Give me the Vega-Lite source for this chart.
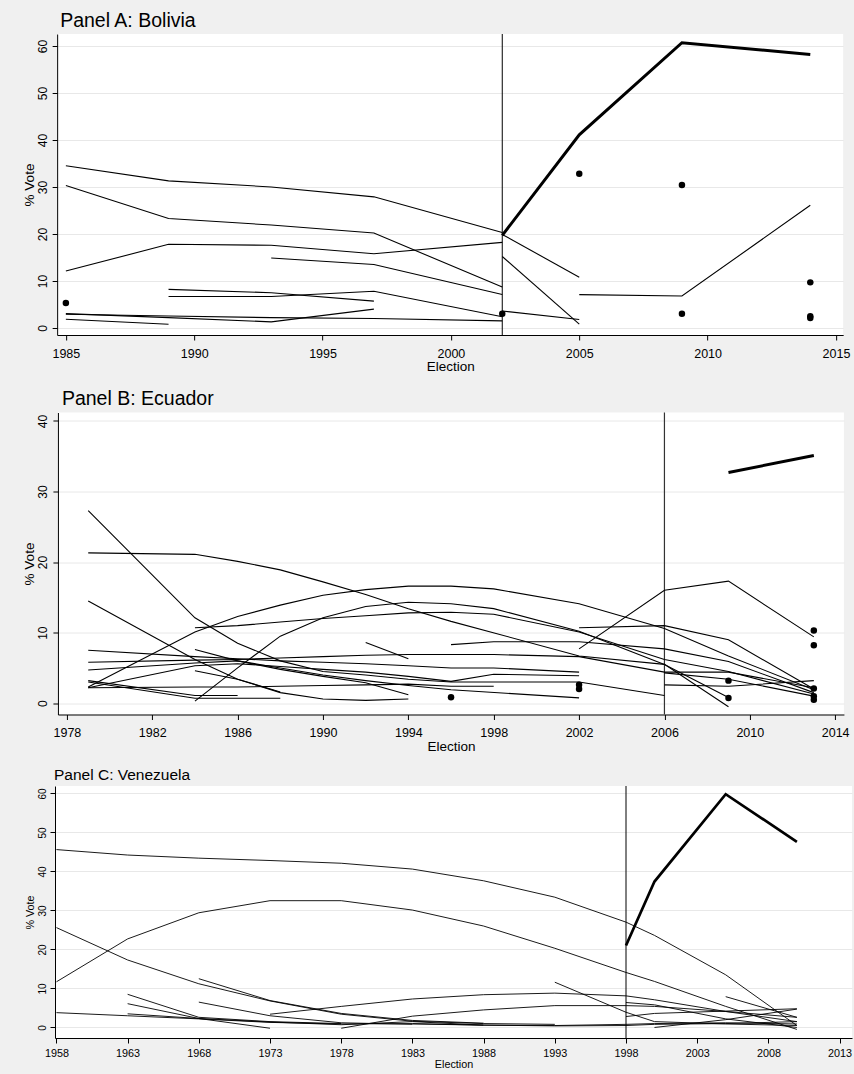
{
  "$schema": "https://vega.github.io/schema/vega-lite/v6.json",
  "background": "#f0f0f0",
  "padding": {"left": 22, "top": 11, "right": 2, "bottom": 8},
  "spacing": 15.5,
  "align": "each",
  "center": true,
  "bounds": "full",
  "datasets": {
    "bolivia": [
      {"party": "b1", "year": 1985, "vote": 34.5, "kind": "line"},
      {"party": "b1", "year": 1989, "vote": 31.3, "kind": "line"},
      {"party": "b1", "year": 1993, "vote": 30.0, "kind": "line"},
      {"party": "b1", "year": 1997, "vote": 27.9, "kind": "line"},
      {"party": "b1", "year": 2002, "vote": 20.3, "kind": "line"},
      {"party": "b1b", "year": 2002, "vote": 19.9, "kind": "line"},
      {"party": "b1b", "year": 2005, "vote": 10.8, "kind": "line"},
      {"party": "b2", "year": 1985, "vote": 30.3, "kind": "line"},
      {"party": "b2", "year": 1989, "vote": 23.3, "kind": "line"},
      {"party": "b2", "year": 1993, "vote": 21.9, "kind": "line"},
      {"party": "b2", "year": 1997, "vote": 20.2, "kind": "line"},
      {"party": "b2", "year": 2002, "vote": 8.7, "kind": "line"},
      {"party": "b3", "year": 1985, "vote": 12.1, "kind": "line"},
      {"party": "b3", "year": 1989, "vote": 17.8, "kind": "line"},
      {"party": "b3", "year": 1993, "vote": 17.6, "kind": "line"},
      {"party": "b3", "year": 1997, "vote": 15.8, "kind": "line"},
      {"party": "b3", "year": 2002, "vote": 18.2, "kind": "line"},
      {"party": "b4", "year": 1993, "vote": 14.9, "kind": "line"},
      {"party": "b4", "year": 1997, "vote": 13.5, "kind": "line"},
      {"party": "b4", "year": 2002, "vote": 7.1, "kind": "line"},
      {"party": "b5", "year": 1989, "vote": 8.2, "kind": "line"},
      {"party": "b5", "year": 1993, "vote": 7.5, "kind": "line"},
      {"party": "b5", "year": 1997, "vote": 5.7, "kind": "line"},
      {"party": "b6", "year": 1989, "vote": 6.7, "kind": "line"},
      {"party": "b6", "year": 1993, "vote": 6.7, "kind": "line"},
      {"party": "b6", "year": 1997, "vote": 7.8, "kind": "line"},
      {"party": "b6", "year": 2002, "vote": 2.4, "kind": "line"},
      {"party": "b7", "year": 1985, "vote": 2.9, "kind": "line"},
      {"party": "b7", "year": 1989, "vote": 2.55, "kind": "line"},
      {"party": "b7", "year": 1993, "vote": 2.2, "kind": "line"},
      {"party": "b7", "year": 1997, "vote": 2.0, "kind": "line"},
      {"party": "b7", "year": 2002, "vote": 1.5, "kind": "line"},
      {"party": "b8", "year": 1985, "vote": 3.05, "kind": "line"},
      {"party": "b8", "year": 1989, "vote": 2.2, "kind": "line"},
      {"party": "b8", "year": 1993, "vote": 1.3, "kind": "line"},
      {"party": "b8", "year": 1997, "vote": 4.0, "kind": "line"},
      {"party": "b9", "year": 1985, "vote": 1.85, "kind": "line"},
      {"party": "b9", "year": 1989, "vote": 0.8, "kind": "line"},
      {"party": "b10", "year": 2002, "vote": 15.2, "kind": "line"},
      {"party": "b10", "year": 2005, "vote": 0.8, "kind": "line"},
      {"party": "b11", "year": 2002, "vote": 3.6, "kind": "line"},
      {"party": "b11", "year": 2005, "vote": 1.8, "kind": "line"},
      {"party": "b12", "year": 2005, "vote": 7.1, "kind": "line"},
      {"party": "b12", "year": 2009, "vote": 6.8, "kind": "line"},
      {"party": "b12", "year": 2014, "vote": 26.1, "kind": "line"},
      {"party": "MAS", "year": 2002, "vote": 19.7, "kind": "thick"},
      {"party": "MAS", "year": 2005, "vote": 41.1, "kind": "thick"},
      {"party": "MAS", "year": 2009, "vote": 60.7, "kind": "thick"},
      {"party": "MAS", "year": 2014, "vote": 58.2, "kind": "thick"},
      {"party": "p1", "year": 1985, "vote": 5.3, "kind": "point"},
      {"party": "p2", "year": 2002, "vote": 3.0, "kind": "point"},
      {"party": "p3", "year": 2005, "vote": 32.8, "kind": "point"},
      {"party": "p4", "year": 2009, "vote": 30.4, "kind": "point"},
      {"party": "p5", "year": 2009, "vote": 3.0, "kind": "point"},
      {"party": "p6", "year": 2014, "vote": 9.7, "kind": "point"},
      {"party": "p7", "year": 2014, "vote": 2.5, "kind": "point"},
      {"party": "p8", "year": 2014, "vote": 2.1, "kind": "point"}
    ],
    "ecuador": [
      {"party": "e1", "year": 1979, "vote": 27.3, "kind": "line"},
      {"party": "e1", "year": 1984, "vote": 12.1, "kind": "line"},
      {"party": "e1", "year": 1986, "vote": 8.5, "kind": "line"},
      {"party": "e1", "year": 1988, "vote": 6.0, "kind": "line"},
      {"party": "e1", "year": 1990, "vote": 4.5, "kind": "line"},
      {"party": "e1", "year": 1992, "vote": 4.0, "kind": "line"},
      {"party": "e1", "year": 1994, "vote": 3.4, "kind": "line"},
      {"party": "e1", "year": 1996, "vote": 3.0, "kind": "line"},
      {"party": "e1", "year": 1998, "vote": 3.0, "kind": "line"},
      {"party": "e1", "year": 2002, "vote": 3.0, "kind": "line"},
      {"party": "e1", "year": 2006, "vote": 1.1, "kind": "line"},
      {"party": "e2", "year": 1979, "vote": 21.3, "kind": "line"},
      {"party": "e2", "year": 1984, "vote": 21.1, "kind": "line"},
      {"party": "e2", "year": 1986, "vote": 20.1, "kind": "line"},
      {"party": "e2", "year": 1988, "vote": 18.9, "kind": "line"},
      {"party": "e2", "year": 1990, "vote": 17.2, "kind": "line"},
      {"party": "e2", "year": 1992, "vote": 15.4, "kind": "line"},
      {"party": "e2", "year": 1994, "vote": 13.4, "kind": "line"},
      {"party": "e2", "year": 1996, "vote": 11.6, "kind": "line"},
      {"party": "e2", "year": 2002, "vote": 6.7, "kind": "line"},
      {"party": "e2", "year": 2006, "vote": 5.5, "kind": "line"},
      {"party": "e2", "year": 2009, "vote": -0.5, "kind": "line"},
      {"party": "e3", "year": 1979, "vote": 2.3, "kind": "line"},
      {"party": "e3", "year": 1984, "vote": 10.1, "kind": "line"},
      {"party": "e3", "year": 1986, "vote": 12.3, "kind": "line"},
      {"party": "e3", "year": 1988, "vote": 13.9, "kind": "line"},
      {"party": "e3", "year": 1990, "vote": 15.3, "kind": "line"},
      {"party": "e3", "year": 1992, "vote": 16.1, "kind": "line"},
      {"party": "e3", "year": 1994, "vote": 16.6, "kind": "line"},
      {"party": "e3", "year": 1996, "vote": 16.6, "kind": "line"},
      {"party": "e3", "year": 1998, "vote": 16.2, "kind": "line"},
      {"party": "e3", "year": 2002, "vote": 14.1, "kind": "line"},
      {"party": "e3", "year": 2006, "vote": 10.6, "kind": "line"},
      {"party": "e3", "year": 2009, "vote": 6.7, "kind": "line"},
      {"party": "e3", "year": 2013, "vote": 1.9, "kind": "line"},
      {"party": "e4", "year": 1984, "vote": 0.3, "kind": "line"},
      {"party": "e4", "year": 1986, "vote": 5.0, "kind": "line"},
      {"party": "e4", "year": 1988, "vote": 9.5, "kind": "line"},
      {"party": "e4", "year": 1990, "vote": 12.1, "kind": "line"},
      {"party": "e4", "year": 1992, "vote": 13.7, "kind": "line"},
      {"party": "e4", "year": 1994, "vote": 14.3, "kind": "line"},
      {"party": "e4", "year": 1996, "vote": 14.1, "kind": "line"},
      {"party": "e4", "year": 1998, "vote": 13.4, "kind": "line"},
      {"party": "e4", "year": 2002, "vote": 10.2, "kind": "line"},
      {"party": "e4", "year": 2006, "vote": 5.5, "kind": "line"},
      {"party": "e4", "year": 2009, "vote": 0.8, "kind": "line"},
      {"party": "e5", "year": 1984, "vote": 10.7, "kind": "line"},
      {"party": "e5", "year": 1986, "vote": 11.0, "kind": "line"},
      {"party": "e5", "year": 1988, "vote": 11.5, "kind": "line"},
      {"party": "e5", "year": 1990, "vote": 12.0, "kind": "line"},
      {"party": "e5", "year": 1992, "vote": 12.4, "kind": "line"},
      {"party": "e5", "year": 1994, "vote": 12.8, "kind": "line"},
      {"party": "e5", "year": 1996, "vote": 12.9, "kind": "line"},
      {"party": "e5", "year": 1998, "vote": 12.6, "kind": "line"},
      {"party": "e5", "year": 2002, "vote": 10.1, "kind": "line"},
      {"party": "e5", "year": 2006, "vote": 6.2, "kind": "line"},
      {"party": "e5", "year": 2009, "vote": 4.5, "kind": "line"},
      {"party": "e5", "year": 2013, "vote": 1.3, "kind": "line"},
      {"party": "e6", "year": 1992, "vote": 8.6, "kind": "line"},
      {"party": "e6", "year": 1994, "vote": 6.3, "kind": "line"},
      {"party": "e7", "year": 1996, "vote": 8.3, "kind": "line"},
      {"party": "e7", "year": 1998, "vote": 8.7, "kind": "line"},
      {"party": "e7", "year": 2002, "vote": 8.7, "kind": "line"},
      {"party": "e7", "year": 2006, "vote": 7.7, "kind": "line"},
      {"party": "e7", "year": 2009, "vote": 5.9, "kind": "line"},
      {"party": "e7", "year": 2013, "vote": 1.5, "kind": "line"},
      {"party": "e8", "year": 2002, "vote": 10.7, "kind": "line"},
      {"party": "e8", "year": 2006, "vote": 11.0, "kind": "line"},
      {"party": "e8", "year": 2009, "vote": 9.0, "kind": "line"},
      {"party": "e8", "year": 2013, "vote": 2.0, "kind": "line"},
      {"party": "e9", "year": 2002, "vote": 7.7, "kind": "line"},
      {"party": "e9", "year": 2006, "vote": 16.0, "kind": "line"},
      {"party": "e9", "year": 2009, "vote": 17.3, "kind": "line"},
      {"party": "e9", "year": 2013, "vote": 9.4, "kind": "line"},
      {"party": "e10", "year": 1979, "vote": 7.5, "kind": "line"},
      {"party": "e10", "year": 1984, "vote": 6.6, "kind": "line"},
      {"party": "e10", "year": 1986, "vote": 6.3, "kind": "line"},
      {"party": "e10", "year": 1988, "vote": 6.0, "kind": "line"},
      {"party": "e10", "year": 1990, "vote": 5.8, "kind": "line"},
      {"party": "e10", "year": 1992, "vote": 5.6, "kind": "line"},
      {"party": "e10", "year": 1994, "vote": 5.3, "kind": "line"},
      {"party": "e10", "year": 1996, "vote": 5.0, "kind": "line"},
      {"party": "e10", "year": 1998, "vote": 5.0, "kind": "line"},
      {"party": "e10", "year": 2002, "vote": 4.4, "kind": "line"},
      {"party": "e11", "year": 1979, "vote": 5.8, "kind": "line"},
      {"party": "e11", "year": 1984, "vote": 6.1, "kind": "line"},
      {"party": "e11", "year": 1986, "vote": 6.2, "kind": "line"},
      {"party": "e11", "year": 1988, "vote": 6.4, "kind": "line"},
      {"party": "e11", "year": 1990, "vote": 6.6, "kind": "line"},
      {"party": "e11", "year": 1992, "vote": 6.8, "kind": "line"},
      {"party": "e11", "year": 1994, "vote": 6.9, "kind": "line"},
      {"party": "e11", "year": 1996, "vote": 6.9, "kind": "line"},
      {"party": "e11", "year": 1998, "vote": 6.9, "kind": "line"},
      {"party": "e11", "year": 2002, "vote": 6.6, "kind": "line"},
      {"party": "e11", "year": 2006, "vote": 4.4, "kind": "line"},
      {"party": "e11", "year": 2009, "vote": 4.4, "kind": "line"},
      {"party": "e11", "year": 2013, "vote": 2.2, "kind": "line"},
      {"party": "e12", "year": 1979, "vote": 4.7, "kind": "line"},
      {"party": "e12", "year": 1984, "vote": 5.7, "kind": "line"},
      {"party": "e12", "year": 1986, "vote": 6.0, "kind": "line"},
      {"party": "e12", "year": 1988, "vote": 5.0, "kind": "line"},
      {"party": "e12", "year": 1990, "vote": 4.0, "kind": "line"},
      {"party": "e12", "year": 1992, "vote": 3.2, "kind": "line"},
      {"party": "e12", "year": 1994, "vote": 2.5, "kind": "line"},
      {"party": "e12", "year": 1996, "vote": 1.9, "kind": "line"},
      {"party": "e12", "year": 2002, "vote": 0.75, "kind": "line"},
      {"party": "e13", "year": 1979, "vote": 2.2, "kind": "line"},
      {"party": "e13", "year": 1984, "vote": 5.3, "kind": "line"},
      {"party": "e13", "year": 1986, "vote": 5.6, "kind": "line"},
      {"party": "e13", "year": 1988, "vote": 5.2, "kind": "line"},
      {"party": "e13", "year": 1990, "vote": 4.8, "kind": "line"},
      {"party": "e13", "year": 1992, "vote": 4.4, "kind": "line"},
      {"party": "e13", "year": 1994, "vote": 3.8, "kind": "line"},
      {"party": "e13", "year": 1996, "vote": 3.1, "kind": "line"},
      {"party": "e13", "year": 1998, "vote": 4.1, "kind": "line"},
      {"party": "e13", "year": 2002, "vote": 3.9, "kind": "line"},
      {"party": "e14", "year": 1979, "vote": 2.2, "kind": "line"},
      {"party": "e14", "year": 1984, "vote": 2.3, "kind": "line"},
      {"party": "e14", "year": 1986, "vote": 2.3, "kind": "line"},
      {"party": "e14", "year": 1988, "vote": 2.4, "kind": "line"},
      {"party": "e14", "year": 1990, "vote": 2.5, "kind": "line"},
      {"party": "e14", "year": 1992, "vote": 2.6, "kind": "line"},
      {"party": "e14", "year": 1994, "vote": 2.7, "kind": "line"},
      {"party": "e14", "year": 1996, "vote": 2.4, "kind": "line"},
      {"party": "e14", "year": 1998, "vote": 2.4, "kind": "line"},
      {"party": "e15", "year": 1984, "vote": 7.6, "kind": "line"},
      {"party": "e15", "year": 1986, "vote": 6.0, "kind": "line"},
      {"party": "e15", "year": 1988, "vote": 4.8, "kind": "line"},
      {"party": "e15", "year": 1990, "vote": 3.8, "kind": "line"},
      {"party": "e15", "year": 1992, "vote": 2.9, "kind": "line"},
      {"party": "e15", "year": 1994, "vote": 1.2, "kind": "line"},
      {"party": "e16", "year": 1979, "vote": 14.5, "kind": "line"},
      {"party": "e16", "year": 1984, "vote": 6.2, "kind": "line"},
      {"party": "e16", "year": 1986, "vote": 3.4, "kind": "line"},
      {"party": "e16", "year": 1988, "vote": 1.5, "kind": "line"},
      {"party": "e16", "year": 1990, "vote": 0.6, "kind": "line"},
      {"party": "e16", "year": 1992, "vote": 0.4, "kind": "line"},
      {"party": "e16", "year": 1994, "vote": 0.6, "kind": "line"},
      {"party": "e17", "year": 1984, "vote": 4.6, "kind": "line"},
      {"party": "e17", "year": 1986, "vote": 3.4, "kind": "line"},
      {"party": "e17", "year": 1988, "vote": 1.6, "kind": "line"},
      {"party": "e18", "year": 1979, "vote": 3.2, "kind": "line"},
      {"party": "e18", "year": 1984, "vote": 1.1, "kind": "line"},
      {"party": "e18", "year": 1986, "vote": 1.1, "kind": "line"},
      {"party": "e19", "year": 1979, "vote": 3.0, "kind": "line"},
      {"party": "e19", "year": 1984, "vote": 0.7, "kind": "line"},
      {"party": "e19", "year": 1986, "vote": 0.7, "kind": "line"},
      {"party": "e19", "year": 1988, "vote": 0.7, "kind": "line"},
      {"party": "e20", "year": 2006, "vote": 4.3, "kind": "line"},
      {"party": "e20", "year": 2009, "vote": 3.4, "kind": "line"},
      {"party": "e20", "year": 2013, "vote": 1.0, "kind": "line"},
      {"party": "e21", "year": 2006, "vote": 2.6, "kind": "line"},
      {"party": "e21", "year": 2009, "vote": 2.4, "kind": "line"},
      {"party": "e21", "year": 2013, "vote": 3.2, "kind": "line"},
      {"party": "PAIS", "year": 2009, "vote": 32.7, "kind": "thick"},
      {"party": "PAIS", "year": 2013, "vote": 35.1, "kind": "thick"},
      {"party": "q1", "year": 1996, "vote": 0.85, "kind": "point"},
      {"party": "q2", "year": 2002, "vote": 2.6, "kind": "point"},
      {"party": "q3", "year": 2002, "vote": 2.0, "kind": "point"},
      {"party": "q4", "year": 2009, "vote": 3.2, "kind": "point"},
      {"party": "q5", "year": 2009, "vote": 0.75, "kind": "point"},
      {"party": "q6", "year": 2013, "vote": 10.3, "kind": "point"},
      {"party": "q7", "year": 2013, "vote": 8.2, "kind": "point"},
      {"party": "q8", "year": 2013, "vote": 2.1, "kind": "point"},
      {"party": "q9", "year": 2013, "vote": 1.0, "kind": "point"},
      {"party": "q10", "year": 2013, "vote": 0.5, "kind": "point"}
    ],
    "venezuela": [
      {"party": "v1", "year": 1958, "vote": 45.6, "kind": "line"},
      {"party": "v1", "year": 1963, "vote": 44.2, "kind": "line"},
      {"party": "v1", "year": 1968, "vote": 43.4, "kind": "line"},
      {"party": "v1", "year": 1973, "vote": 42.8, "kind": "line"},
      {"party": "v1", "year": 1978, "vote": 42.1, "kind": "line"},
      {"party": "v1", "year": 1983, "vote": 40.6, "kind": "line"},
      {"party": "v1", "year": 1988, "vote": 37.6, "kind": "line"},
      {"party": "v1", "year": 1993, "vote": 33.4, "kind": "line"},
      {"party": "v1", "year": 1998, "vote": 27.0, "kind": "line"},
      {"party": "v1", "year": 2000, "vote": 23.6, "kind": "line"},
      {"party": "v1", "year": 2005, "vote": 13.5, "kind": "line"},
      {"party": "v1", "year": 2010, "vote": 0.5, "kind": "line"},
      {"party": "v2", "year": 1958, "vote": 11.7, "kind": "line"},
      {"party": "v2", "year": 1963, "vote": 22.7, "kind": "line"},
      {"party": "v2", "year": 1968, "vote": 29.4, "kind": "line"},
      {"party": "v2", "year": 1973, "vote": 32.5, "kind": "line"},
      {"party": "v2", "year": 1978, "vote": 32.5, "kind": "line"},
      {"party": "v2", "year": 1983, "vote": 30.1, "kind": "line"},
      {"party": "v2", "year": 1988, "vote": 26.0, "kind": "line"},
      {"party": "v2", "year": 1993, "vote": 20.3, "kind": "line"},
      {"party": "v2", "year": 1998, "vote": 14.1, "kind": "line"},
      {"party": "v2", "year": 2000, "vote": 11.8, "kind": "line"},
      {"party": "v2", "year": 2005, "vote": 5.4, "kind": "line"},
      {"party": "v2", "year": 2010, "vote": -0.5, "kind": "line"},
      {"party": "v3", "year": 1958, "vote": 25.6, "kind": "line"},
      {"party": "v3", "year": 1963, "vote": 17.3, "kind": "line"},
      {"party": "v3", "year": 1968, "vote": 11.2, "kind": "line"},
      {"party": "v3", "year": 1973, "vote": 6.8, "kind": "line"},
      {"party": "v3", "year": 1978, "vote": 3.4, "kind": "line"},
      {"party": "v3", "year": 1983, "vote": 1.6, "kind": "line"},
      {"party": "v3", "year": 1988, "vote": 1.0, "kind": "line"},
      {"party": "v3", "year": 1993, "vote": 0.8, "kind": "line"},
      {"party": "v4", "year": 1968, "vote": 12.5, "kind": "line"},
      {"party": "v4", "year": 1973, "vote": 6.9, "kind": "line"},
      {"party": "v4", "year": 1978, "vote": 3.6, "kind": "line"},
      {"party": "v4", "year": 1983, "vote": 1.8, "kind": "line"},
      {"party": "v4", "year": 1988, "vote": 1.1, "kind": "line"},
      {"party": "v5", "year": 1963, "vote": 8.5, "kind": "line"},
      {"party": "v5", "year": 1968, "vote": 2.6, "kind": "line"},
      {"party": "v5", "year": 1973, "vote": 1.5, "kind": "line"},
      {"party": "v5", "year": 1978, "vote": 1.0, "kind": "line"},
      {"party": "v6", "year": 1963, "vote": 6.1, "kind": "line"},
      {"party": "v6", "year": 1968, "vote": 2.3, "kind": "line"},
      {"party": "v6", "year": 1973, "vote": -0.2, "kind": "line"},
      {"party": "v7", "year": 1968, "vote": 6.5, "kind": "line"},
      {"party": "v7", "year": 1973, "vote": 3.0, "kind": "line"},
      {"party": "v7", "year": 1978, "vote": 1.2, "kind": "line"},
      {"party": "v7", "year": 1983, "vote": 0.8, "kind": "line"},
      {"party": "v8", "year": 1973, "vote": 3.4, "kind": "line"},
      {"party": "v8", "year": 1978, "vote": 5.4, "kind": "line"},
      {"party": "v8", "year": 1983, "vote": 7.3, "kind": "line"},
      {"party": "v8", "year": 1988, "vote": 8.4, "kind": "line"},
      {"party": "v8", "year": 1993, "vote": 8.8, "kind": "line"},
      {"party": "v8", "year": 1998, "vote": 8.1, "kind": "line"},
      {"party": "v8", "year": 2000, "vote": 7.1, "kind": "line"},
      {"party": "v8", "year": 2005, "vote": 4.1, "kind": "line"},
      {"party": "v8", "year": 2010, "vote": 1.5, "kind": "line"},
      {"party": "v9", "year": 1978, "vote": -0.2, "kind": "line"},
      {"party": "v9", "year": 1983, "vote": 2.9, "kind": "line"},
      {"party": "v9", "year": 1988, "vote": 4.5, "kind": "line"},
      {"party": "v9", "year": 1993, "vote": 5.6, "kind": "line"},
      {"party": "v9", "year": 1998, "vote": 5.6, "kind": "line"},
      {"party": "v9", "year": 2000, "vote": 5.4, "kind": "line"},
      {"party": "v9", "year": 2005, "vote": 4.1, "kind": "line"},
      {"party": "v9", "year": 2010, "vote": 2.6, "kind": "line"},
      {"party": "v10", "year": 1958, "vote": 3.8, "kind": "line"},
      {"party": "v10", "year": 1963, "vote": 3.0, "kind": "line"},
      {"party": "v10", "year": 1968, "vote": 2.2, "kind": "line"},
      {"party": "v10", "year": 1973, "vote": 1.3, "kind": "line"},
      {"party": "v10", "year": 1978, "vote": 0.9, "kind": "line"},
      {"party": "v10", "year": 1983, "vote": 1.0, "kind": "line"},
      {"party": "v10", "year": 1988, "vote": 0.6, "kind": "line"},
      {"party": "v10", "year": 1993, "vote": 0.5, "kind": "line"},
      {"party": "v10", "year": 1998, "vote": 0.8, "kind": "line"},
      {"party": "v10", "year": 2000, "vote": 1.0, "kind": "line"},
      {"party": "v10", "year": 2005, "vote": 1.2, "kind": "line"},
      {"party": "v10", "year": 2010, "vote": 0.9, "kind": "line"},
      {"party": "v11", "year": 1963, "vote": 3.5, "kind": "line"},
      {"party": "v11", "year": 1968, "vote": 2.3, "kind": "line"},
      {"party": "v11", "year": 1973, "vote": 1.4, "kind": "line"},
      {"party": "v11", "year": 1978, "vote": 0.7, "kind": "line"},
      {"party": "v11", "year": 1983, "vote": 1.5, "kind": "line"},
      {"party": "v11", "year": 1988, "vote": 0.6, "kind": "line"},
      {"party": "v12", "year": 1993, "vote": 11.6, "kind": "line"},
      {"party": "v12", "year": 1998, "vote": 3.9, "kind": "line"},
      {"party": "v12", "year": 2000, "vote": 1.5, "kind": "line"},
      {"party": "v12", "year": 2005, "vote": 0.9, "kind": "line"},
      {"party": "v12", "year": 2010, "vote": 0.5, "kind": "line"},
      {"party": "v13", "year": 1998, "vote": 6.4, "kind": "line"},
      {"party": "v13", "year": 2000, "vote": 5.8, "kind": "line"},
      {"party": "v13", "year": 2005, "vote": 2.2, "kind": "line"},
      {"party": "v13", "year": 2010, "vote": 0.0, "kind": "line"},
      {"party": "v14", "year": 1998, "vote": 2.8, "kind": "line"},
      {"party": "v14", "year": 2000, "vote": 3.6, "kind": "line"},
      {"party": "v14", "year": 2005, "vote": 4.2, "kind": "line"},
      {"party": "v14", "year": 2010, "vote": 4.8, "kind": "line"},
      {"party": "v15", "year": 2005, "vote": 7.9, "kind": "line"},
      {"party": "v15", "year": 2010, "vote": 2.6, "kind": "line"},
      {"party": "v16", "year": 2000, "vote": 0.0, "kind": "line"},
      {"party": "v16", "year": 2005, "vote": 2.0, "kind": "line"},
      {"party": "v16", "year": 2010, "vote": 4.7, "kind": "line"},
      {"party": "v17", "year": 1983, "vote": 0.9, "kind": "line"},
      {"party": "v17", "year": 1988, "vote": 0.6, "kind": "line"},
      {"party": "v17", "year": 1993, "vote": 0.4, "kind": "line"},
      {"party": "v17", "year": 1998, "vote": 0.5, "kind": "line"},
      {"party": "v17", "year": 2000, "vote": 0.8, "kind": "line"},
      {"party": "v17", "year": 2005, "vote": 1.0, "kind": "line"},
      {"party": "v17", "year": 2010, "vote": 1.5, "kind": "line"},
      {"party": "MVR", "year": 1998, "vote": 21.0, "kind": "thick"},
      {"party": "MVR", "year": 2000, "vote": 37.4, "kind": "thick"},
      {"party": "MVR", "year": 2005, "vote": 59.8, "kind": "thick"},
      {"party": "MVR", "year": 2010, "vote": 47.6, "kind": "thick"}
    ]
  },
  "vconcat": [
    {
      "width": 786,
      "height": 301,
      "title": {"text": "Panel A: Bolivia", "fontSize": 19.5, "offset": 2, "dx": 3, "frame": "group"},
      "encoding": {
        "x": {"field": "year", "type": "quantitative",
          "scale": {"domain": [1984.66, 2015.28], "nice": false, "zero": false},
          "axis": {"values": [1985, 1990, 1995, 2000, 2005, 2010, 2015], "format": "d", "title": "Election", "grid": false, "labelFontSize": 12.5, "titleFontSize": 13.5, "labelPadding": 7, "titlePadding": 0}}
      },
      "layer": [
        {"data": {"values": [{"year": 2002}]}, "mark": {"type": "rule", "color": "#000000", "strokeWidth": 1}, "encoding": {}},
        {"data": {"name": "bolivia"}, "transform": [{"filter": "datum.kind === 'line'"}],
          "mark": {"type": "line", "color": "#000000", "strokeWidth": 1.1},
          "encoding": {
            "y": {"field": "vote", "type": "quantitative",
              "scale": {"domain": [-1.5, 62.55], "nice": false, "zero": false},
              "axis": {"values": [0, 10, 20, 30, 40, 50, 60], "title": "% Vote", "grid": true, "labelAngle": 270, "labelAlign": "center", "labelBaseline": "bottom", "labelFontSize": 12, "titleFontSize": 13.5, "labelPadding": 3, "titlePadding": 0}},
            "detail": {"field": "party"}}},
        {"data": {"name": "bolivia"}, "transform": [{"filter": "datum.kind === 'thick'"}],
          "mark": {"type": "line", "color": "#000000", "strokeWidth": 3},
          "encoding": {"y": {"field": "vote", "type": "quantitative"}, "detail": {"field": "party"}}},
        {"data": {"name": "bolivia"}, "transform": [{"filter": "datum.kind === 'point'"}],
          "mark": {"type": "circle", "color": "#000000", "size": 42, "opacity": 1},
          "encoding": {"y": {"field": "vote", "type": "quantitative"}}}
      ]
    },
    {
      "width": 786,
      "height": 302,
      "title": {"text": "Panel B: Ecuador", "fontSize": 19.5, "offset": 2, "dx": 4, "frame": "group"},
      "encoding": {
        "x": {"field": "year", "type": "quantitative",
          "scale": {"domain": [1977.58, 2014.41], "nice": false, "zero": false},
          "axis": {"values": [1978, 1982, 1986, 1990, 1994, 1998, 2002, 2006, 2010, 2014], "format": "d", "title": "Election", "grid": false, "labelFontSize": 12.5, "titleFontSize": 13.5, "labelPadding": 7, "titlePadding": 0}}
      },
      "layer": [
        {"data": {"values": [{"year": 2006}]}, "mark": {"type": "rule", "color": "#333333", "strokeWidth": 1.2}, "encoding": {}},
        {"data": {"name": "ecuador"}, "transform": [{"filter": "datum.kind === 'line'"}],
          "mark": {"type": "line", "color": "#000000", "strokeWidth": 1.1},
          "encoding": {
            "y": {"field": "vote", "type": "quantitative",
              "scale": {"domain": [-1.6, 41.2], "nice": false, "zero": false},
              "axis": {"values": [0, 10, 20, 30, 40], "title": "% Vote", "grid": true, "labelAngle": 270, "labelAlign": "center", "labelBaseline": "bottom", "labelFontSize": 12, "titleFontSize": 13.5, "labelPadding": 3, "titlePadding": 0}},
            "detail": {"field": "party"}}},
        {"data": {"name": "ecuador"}, "transform": [{"filter": "datum.kind === 'thick'"}],
          "mark": {"type": "line", "color": "#000000", "strokeWidth": 3},
          "encoding": {"y": {"field": "vote", "type": "quantitative"}, "detail": {"field": "party"}}},
        {"data": {"name": "ecuador"}, "transform": [{"filter": "datum.kind === 'point'"}],
          "mark": {"type": "circle", "color": "#000000", "size": 42, "opacity": 1},
          "encoding": {"y": {"field": "vote", "type": "quantitative"}}}
      ]
    },
    {
      "width": 797,
      "height": 252,
      "title": {"text": "Panel C: Venezuela", "fontSize": 15.5, "offset": 2, "dx": -1, "frame": "group"},
      "encoding": {
        "x": {"field": "year", "type": "quantitative",
          "scale": {"domain": [1957.9, 2013.87], "nice": false, "zero": false},
          "axis": {"values": [1958, 1963, 1968, 1973, 1978, 1983, 1988, 1993, 1998, 2003, 2008, 2013], "format": "d", "title": "Election", "grid": false, "labelFontSize": 10.8, "titleFontSize": 10.8, "labelPadding": 4, "titlePadding": 1}}
      },
      "layer": [
        {"data": {"values": [{"year": 1998}]}, "mark": {"type": "rule", "color": "#000000", "strokeWidth": 1}, "encoding": {}},
        {"data": {"name": "venezuela"}, "transform": [{"filter": "datum.kind === 'line'"}],
          "mark": {"type": "line", "color": "#000000", "strokeWidth": 0.9},
          "encoding": {
            "y": {"field": "vote", "type": "quantitative",
              "scale": {"domain": [-2.7, 61.9], "nice": false, "zero": false},
              "axis": {"values": [0, 10, 20, 30, 40, 50, 60], "title": "% Vote", "grid": true, "labelAngle": 270, "labelAlign": "center", "labelBaseline": "bottom", "labelFontSize": 10, "titleFontSize": 10.8, "labelPadding": 2.3, "titlePadding": 2}},
            "detail": {"field": "party"}}},
        {"data": {"name": "venezuela"}, "transform": [{"filter": "datum.kind === 'thick'"}],
          "mark": {"type": "line", "color": "#000000", "strokeWidth": 2.7},
          "encoding": {"y": {"field": "vote", "type": "quantitative"}, "detail": {"field": "party"}}}
      ]
    }
  ],
  "config": {
    "font": "Liberation Sans",
    "view": {"stroke": null, "fill": "#ffffff"},
    "axis": {"domainColor": "#000000", "tickColor": "#000000", "labelColor": "#000000", "titleColor": "#000000", "titleFontWeight": "normal", "gridColor": "#e8e8e8", "labelFont": "Liberation Sans", "titleFont": "Liberation Sans", "tickSize": 5, "labelFlush": false, "labelOverlap": false, "domainWidth": 1, "tickWidth": 1},
    "title": {"font": "Liberation Sans", "fontWeight": "normal", "color": "#000000", "anchor": "start"}
  }
}
